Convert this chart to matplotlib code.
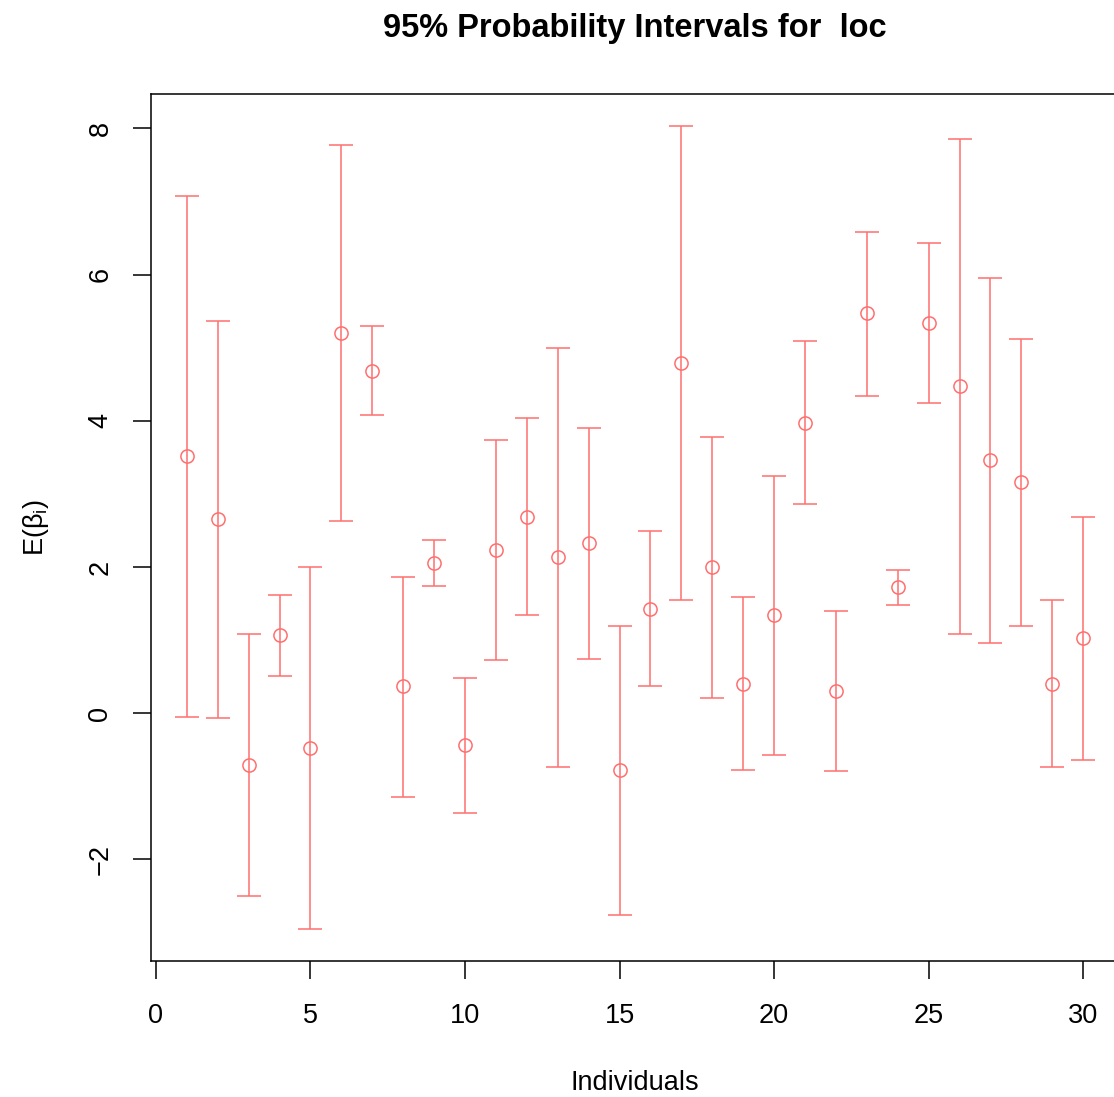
import matplotlib
matplotlib.use("Agg")
import matplotlib.pyplot as plt
import numpy as np

plt.rcParams['font.family'] = ['Liberation Sans', 'DejaVu Sans']
plt.rcParams['mathtext.fontset'] = 'custom'
plt.rcParams['mathtext.rm'] = 'Liberation Sans'
plt.rcParams['mathtext.it'] = 'Liberation Sans'

individuals = list(range(1, 31))
means = [3.52, 2.65, -0.71, 1.07, -0.47, 5.20, 4.68, 0.37, 2.05, -0.44,
         2.23, 2.69, 2.13, 2.33, -0.78, 1.42, 4.79, 2.00, 0.40, 1.34,
         3.97, 0.31, 5.47, 1.72, 5.34, 4.47, 3.46, 3.16, 0.40, 1.03]
upper = [7.07, 5.36, 1.08, 1.61, 2.00, 7.77, 5.29, 1.86, 2.37, 0.48,
         3.73, 4.04, 4.99, 3.90, 1.19, 2.49, 8.03, 3.78, 1.59, 3.24,
         5.09, 1.40, 6.58, 1.96, 6.43, 7.85, 5.95, 5.12, 1.55, 2.68]
lower = [-0.05, -0.07, -2.50, 0.51, -2.95, 2.63, 4.08, -1.15, 1.74, -1.37,
         0.73, 1.35, -0.73, 0.74, -2.76, 0.37, 1.55, 0.21, -0.78, -0.57,
         2.86, -0.79, 4.34, 1.48, 4.24, 1.08, 0.96, 1.19, -0.74, -0.64]
xticks = [0, 5, 10, 15, 20, 25, 30]
yticks = [-2, 0, 2, 4, 6, 8]

W, H = 1114, 1097
fig = plt.figure(figsize=(W / 100, H / 100), dpi=100)
left, right, bottom, top = 151, 1119, 961, 94
ax = fig.add_axes([left / W, (H - bottom) / H, (right - left) / W, (bottom - top) / H])

col = '#FF6F6F'
x = np.array(individuals)
m = np.array(means)
yerr = np.vstack([m - np.array(lower), np.array(upper) - m])
ax.errorbar(x, m, yerr=yerr, fmt='o', color=col, mfc='none', mec=col,
            ms=9.5, mew=1.1, elinewidth=1.1, capsize=8.6, capthick=1.1)

xmin, xmax = min(individuals), max(individuals)
dx = (xmax - xmin) * 0.04
ax.set_xlim(xmin - dx, xmax + dx)
ymin, ymax = min(lower), max(upper)
dy = (ymax - ymin) * 0.04
ax.set_ylim(ymin - dy, ymax + dy)

ax.set_xticks(xticks)
ax.set_yticks(yticks)
ax.set_yticklabels([str(v).replace('-', '\u2212') for v in yticks], rotation=90, va='center')
ax.tick_params(axis='both', length=13, width=1.1, labelsize=19.5, direction='out')
ax.tick_params(axis='x', pad=17)
ax.tick_params(axis='y', pad=14)
for s in ax.spines.values():
    s.set_linewidth(1.1)

ax.set_xlabel('Individuals', fontsize=19.5, labelpad=30)
ax.set_ylabel(r'E($\beta_\mathrm{i}$)', fontsize=19.5, labelpad=26)
fig.text((151 + 1119) / 2 / W, 1 - 29 / H, '95% Probability Intervals for  loc',
         ha='center', va='center', fontsize=23.5, fontweight='bold')

fig.savefig('out.png', dpi=100)
